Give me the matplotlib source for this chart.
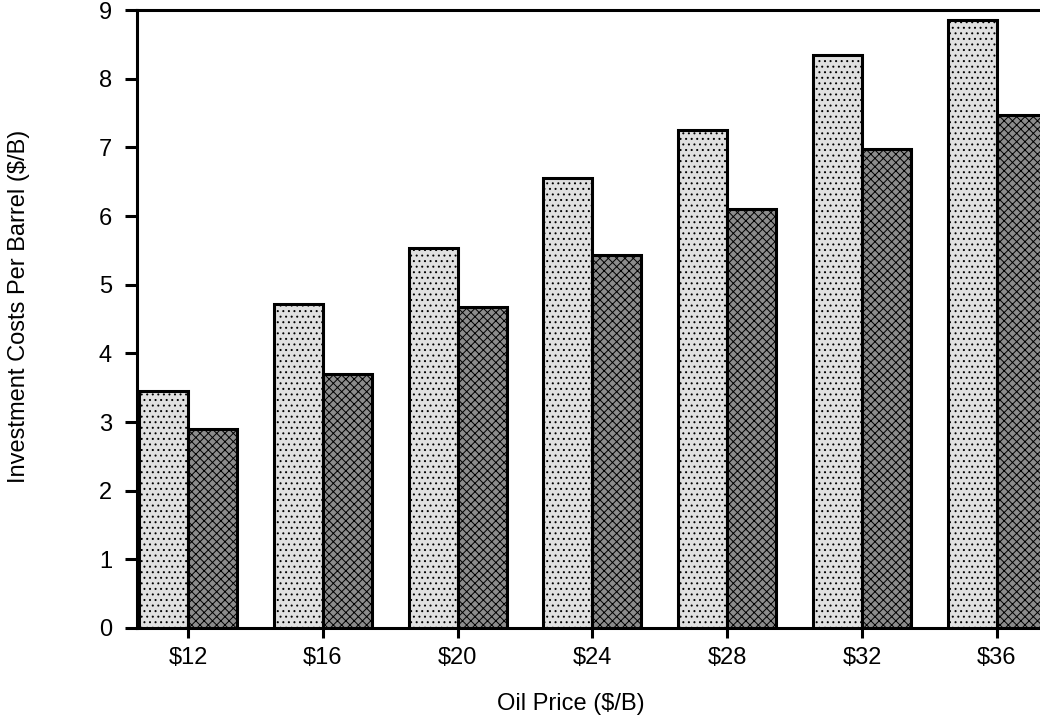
import matplotlib
matplotlib.use("Agg")
import matplotlib.pyplot as plt
import numpy as np

prices = ["$12", "$16", "$20", "$24", "$28", "$32", "$36"]
light_costs = [3.45, 4.72, 5.53, 6.55, 7.25, 8.34, 8.86]
dark_costs = [2.9, 3.7, 4.67, 5.43, 6.1, 6.97, 7.47]

plt.rcParams["font.family"] = ["Liberation Sans", "DejaVu Sans"]
plt.rcParams["hatch.linewidth"] = 0.7

fig = plt.figure(figsize=(10.4, 7.21), dpi=100)
ax = fig.add_axes([0.1317, 0.129, 0.8683, 0.857])

x = np.arange(len(prices))
w = 0.363
ax.bar(x - w / 2, light_costs, width=w, facecolor="#e0e0e0", edgecolor="black",
       linewidth=2.2, hatch="...", zorder=3)
ax.bar(x + w / 2, dark_costs, width=w, facecolor="#8c8c8c", edgecolor="black",
       linewidth=2.2, hatch="xxxx", zorder=3)

ax.set_xlim(-0.378, 6.32)
ax.set_ylim(0, 9)
ax.set_yticks(range(10))
ax.set_xticks(x)
ax.set_xticklabels(prices)

for side in ["left", "bottom", "top"]:
    ax.spines[side].set_linewidth(2.2)
ax.spines["right"].set_visible(False)
ax.tick_params(axis="y", direction="out", length=9, width=2.2, pad=9, labelsize=17)
ax.tick_params(axis="x", direction="out", length=7, width=2.2, pad=7, labelsize=17)

ax.set_xlabel("Oil Price ($/B)", fontsize=17)
ax.set_ylabel("Investment Costs Per Barrel ($/B)", fontsize=17)
ax.xaxis.set_label_coords(0.48, -0.105)
ax.yaxis.set_label_coords(-0.118, 0.52)

fig.savefig("out.png", dpi=100)
